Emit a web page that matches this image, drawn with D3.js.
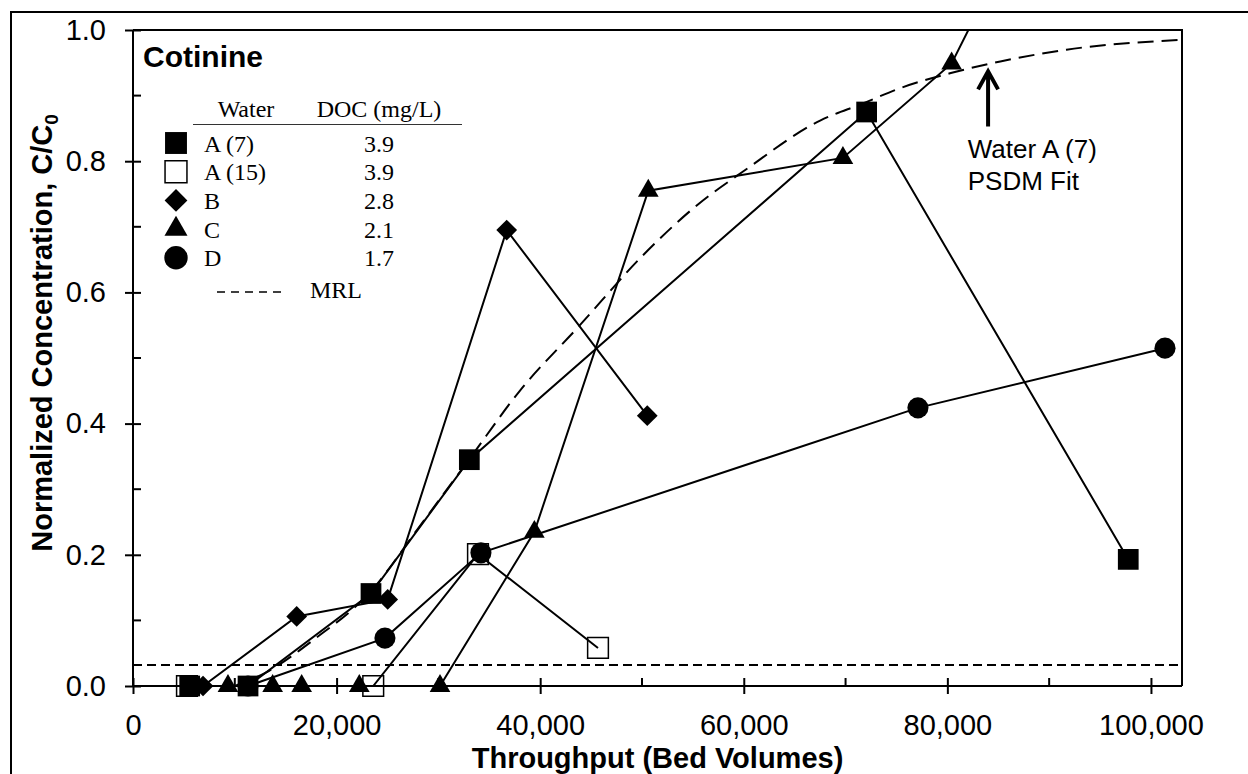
<!DOCTYPE html>
<html>
<head>
<meta charset="utf-8">
<script src="https://cdn.jsdelivr.net/npm/d3@7"></script>
<style>
  body { margin: 0; background: #fff; }
  svg { display: block; }
</style>
</head>
<body>
<div class="svg-target"></div>
<script>
// chart values
const xTicks = [0, 20000, 40000, 60000, 80000, 100000];
const xMinor = [10000, 30000, 50000, 70000, 90000];
const yTicks = [0, 0.2, 0.4, 0.6, 0.8, 1.0];
const yMinor = [0.1, 0.3, 0.5, 0.7, 0.9];

const waterA7 = [[5570, 0], [11300, 0], [23380, 0.141], [33040, 0.345], [72070, 0.875], [97770, 0.193]];
const waterA15 = [[5300, 0], [23600, 0], [33890, 0.201], [45680, 0.058]];
const waterB = [[6880, 0], [16080, 0.106], [25020, 0.132], [36710, 0.695], [50520, 0.412]];
const waterC = [[9330, 0], [13720, 0], [16570, 0], [22230, 0], [30160, 0], [39430, 0.235], [50620, 0.755], [69740, 0.805], [80420, 0.949], [84000, 1.06]];
const waterD = [[11300, 0], [24750, 0.073], [34180, 0.203], [77110, 0.424], [101380, 0.515]];

const seriesNames = ['A (7)', 'A (15)', 'B', 'C', 'D'];
const docValues = ['3.9', '3.9', '2.8', '2.1', '1.7'];

const psdmFit = [[10000, 0], [13000, 0.02], [17700, 0.07], [23400, 0.145], [28000, 0.24], [33000, 0.345],
    [38000, 0.45], [43900, 0.55], [50000, 0.655], [55650, 0.736], [60000, 0.785], [67500, 0.862],
    [71700, 0.888], [75300, 0.911], [80250, 0.934], [85200, 0.952], [91700, 0.97], [103000, 0.985]];
const mrl = 0.032;

const w = 1248;
const h = 774;
const pLeft = 133, pRight = 1182, pTop = 30, pBottom = 686;
const sans = '"Liberation Sans", Arial, sans-serif';
const serif = '"Liberation Serif", "Times New Roman", serif';

const svg = d3.select('.svg-target')
    .append('svg')
    .attr('width', w)
    .attr('height', h);

// outer frame (cropped figure: top and left edges only)
svg.append('path')
    .attr('d', `M11,774 V12 H${w}`)
    .attr('fill', 'none')
    .attr('stroke', '#000')
    .attr('stroke-width', 2);

const xScale = d3.scaleLinear().domain([0, 103050]).range([pLeft, pRight]);
const yScale = d3.scaleLinear().domain([0, 1]).range([pBottom, pTop]);

svg.append('defs').append('clipPath').attr('id', 'plot-clip')
    .append('rect')
    .attr('x', pLeft).attr('y', pTop)
    .attr('width', pRight - pLeft).attr('height', pBottom - pTop);

// plot border top + right
svg.append('path')
    .attr('d', `M${pLeft},${pTop} H${pRight} V${pBottom}`)
    .attr('fill', 'none')
    .attr('stroke', '#000')
    .attr('stroke-width', 2);

// x axis
const xAxis = d3.axisBottom(xScale)
    .tickValues(xTicks)
    .tickSize(8)
    .tickPadding(20)
    .tickFormat(d3.format(','));

const gx = svg.append('g')
    .attr('id', 'x-axis')
    .attr('transform', `translate(0, ${pBottom})`)
    .call(xAxis);
gx.select('.domain').attr('stroke-width', 2).attr('d', `M${pLeft},0H${pRight}`);
gx.selectAll('.tick line').attr('stroke-width', 2).attr('y1', -8);
gx.selectAll('text').style('font-family', sans).style('font-size', '29px').attr('fill', '#000');

gx.selectAll('.minor')
    .data(xMinor)
    .enter()
    .append('line')
        .attr('class', 'minor')
        .attr('x1', d => xScale(d)).attr('x2', d => xScale(d))
        .attr('y1', 0).attr('y2', -8)
        .attr('stroke', '#000')
        .attr('stroke-width', 2);

// y axis
const yAxis = d3.axisLeft(yScale)
    .tickValues(yTicks)
    .tickSize(8)
    .tickPadding(19)
    .tickFormat(d3.format('.1f'));

const gy = svg.append('g')
    .attr('id', 'y-axis')
    .attr('transform', `translate(${pLeft}, 0)`)
    .call(yAxis);
gy.select('.domain').attr('stroke-width', 2).attr('d', `M0,${pBottom}V${pTop}`);
gy.selectAll('.tick line').attr('stroke-width', 2).attr('x1', 8);
gy.selectAll('text').style('font-family', sans).style('font-size', '29px').attr('fill', '#000');

gy.selectAll('.minor')
    .data(yMinor)
    .enter()
    .append('line')
        .attr('class', 'minor')
        .attr('y1', d => yScale(d)).attr('y2', d => yScale(d))
        .attr('x1', 0).attr('x2', 8)
        .attr('stroke', '#000')
        .attr('stroke-width', 2);

// axis titles
svg.append('text')
    .attr('x', (pLeft + pRight) / 2)
    .attr('y', 768)
    .attr('text-anchor', 'middle')
    .style('font-family', sans)
    .style('font-size', '29px')
    .style('font-weight', 'bold')
    .text('Throughput (Bed Volumes)');

const yTitle = svg.append('text')
    .attr('transform', `translate(52, ${(pTop + pBottom) / 2 - 25}) rotate(-90)`)
    .attr('text-anchor', 'middle')
    .style('font-family', sans)
    .style('font-size', '29px')
    .style('font-weight', 'bold');
yTitle.append('tspan').text('Normalized Concentration, C/C');
yTitle.append('tspan').attr('dy', 6).style('font-size', '19px').text('0');

// MRL line
const plot = svg.append('g').attr('clip-path', 'url(#plot-clip)');

plot.append('line')
    .attr('x1', pLeft).attr('x2', pRight)
    .attr('y1', yScale(mrl)).attr('y2', yScale(mrl))
    .attr('stroke', '#000')
    .attr('stroke-width', 2)
    .attr('stroke-dasharray', '9,5');

// series
const sym = {
    square: d3.symbol().type(d3.symbolSquare).size(430),
    diamond: d3.symbol().type(d3.symbolSquare).size(215),
    triangle: d3.symbol().type(d3.symbolTriangle).size(185),
    circle: d3.symbol().type(d3.symbolCircle).size(350)
};
// open squares have no fill, like the original markers
const seriesList = [
    {data: waterA7, shape: 'square', fill: '#000', rot: 0},
    {data: waterA15, shape: 'square', fill: 'none', rot: 0},
    {data: waterB, shape: 'diamond', fill: '#000', rot: 45},
    {data: waterC, shape: 'triangle', fill: '#000', rot: 0},
    {data: waterD, shape: 'circle', fill: '#000', rot: 0}
];

const line = d3.line()
    .x(d => xScale(d[0]))
    .y(d => yScale(d[1]));

seriesList.forEach(s => {
    plot.append('path')
        .datum(s.data)
        .attr('d', line)
        .attr('fill', 'none')
        .attr('stroke', '#000')
        .attr('stroke-width', 2);
});

// PSDM fit
plot.append('path')
    .datum(psdmFit)
    .attr('d', line.curve(d3.curveMonotoneX))
    .attr('fill', 'none')
    .attr('stroke', '#000')
    .attr('stroke-width', 2)
    .attr('stroke-dasharray', '16,8');

seriesList.forEach(s => {
    svg.append('g').selectAll('path')
        .data(s.data.filter(d => d[1] <= 1))
        .enter()
        .append('path')
            .attr('d', sym[s.shape])
            .attr('transform', d => `translate(${xScale(d[0])},${yScale(d[1])}) rotate(${s.rot})`)
            .attr('fill', s.fill)
            .attr('stroke', '#000')
            .attr('stroke-width', s.fill === 'none' ? 1.5 : 0);
});

// title + legend
svg.append('text')
    .attr('x', 143).attr('y', 67)
    .style('font-family', sans)
    .style('font-size', '30px')
    .style('font-weight', 'bold')
    .text('Cotinine');

const legend = svg.append('g').style('font-family', serif).style('font-size', '24px');
legend.append('text').attr('x', 246).attr('y', 117).attr('text-anchor', 'middle').text('Water');
legend.append('text').attr('x', 379).attr('y', 117).attr('text-anchor', 'middle').text('DOC (mg/L)');
legend.append('line')
    .attr('x1', 193).attr('x2', 462).attr('y1', 124.5).attr('y2', 124.5)
    .attr('stroke', '#333').attr('stroke-width', 1.2);

const legSym = {
    square: d3.symbol().type(d3.symbolSquare).size(480),
    diamond: d3.symbol().type(d3.symbolSquare).size(260),
    triangle: d3.symbol().type(d3.symbolTriangle).size(230),
    circle: d3.symbol().type(d3.symbolCircle).size(430)
};
seriesList.forEach((s, i) => {
    const yc = 143 + i * 28.7;
    legend.append('path')
        .attr('d', legSym[s.shape])
        .attr('transform', `translate(176,${yc}) rotate(${s.rot})`)
        .attr('fill', s.fill)
        .attr('stroke', '#000')
        .attr('stroke-width', s.fill === 'none' ? 1.5 : 0);
    legend.append('text').attr('x', 204).attr('y', yc + 8.5).text(seriesNames[i]);
    legend.append('text').attr('x', 379).attr('y', yc + 8.5).attr('text-anchor', 'middle').text(docValues[i]);
});
legend.append('line')
    .attr('x1', 217).attr('x2', 285).attr('y1', 292).attr('y2', 292)
    .attr('stroke', '#000').attr('stroke-width', 1.5).attr('stroke-dasharray', '8,6');
legend.append('text').attr('x', 310).attr('y', 298).text('MRL');

// annotation
const tipX = xScale(84000), tipY = yScale(0.94), tailY = yScale(0.853);
svg.append('path')
    .attr('d', `M${tipX},${tailY} V${tipY + 2} M${tipX - 10},${tipY + 20} L${tipX},${tipY + 2} L${tipX + 10},${tipY + 20}`)
    .attr('fill', 'none')
    .attr('stroke', '#000')
    .attr('stroke-width', 4);
const note = svg.append('text')
    .attr('x', xScale(82000))
    .attr('y', 158)
    .style('font-family', sans)
    .style('font-size', '26px');
note.append('tspan').text('Water A (7)');
note.append('tspan').attr('x', xScale(82000)).attr('dy', 32).text('PSDM Fit');
</script>
</body>
</html>
